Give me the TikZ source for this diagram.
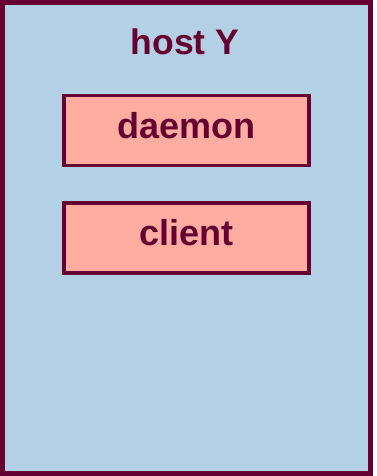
\documentclass[tikz,border=0pt]{standalone}
\usepackage{fontspec}
\setmainfont{Liberation Sans}
\definecolor{maroon}{HTML}{660033}
\definecolor{hostblue}{HTML}{B4D0E4}
\definecolor{salmon}{HTML}{FFADA0}
\tikzset{
  hostbox/.style={draw=maroon, fill=hostblue, line width=5pt},
  procbox/.style={draw=maroon, fill=salmon, line width=3.5pt, minimum width=245pt, minimum height=70pt, inner sep=0pt,
    font=\fontsize{36}{40}\selectfont\bfseries, text=maroon, text height=26pt, text depth=10.4pt},
  hostlabel/.style={font=\fontsize{35.5}{40}\selectfont\bfseries, text=maroon, inner sep=0pt, anchor=base}
}
\begin{document}
\begin{tikzpicture}[x=1pt,y=-1pt]
\useasboundingbox (0,0) rectangle (376,476);
\draw[hostbox] (2.5,2.5) rectangle (370.5,473.5);
\node[hostlabel] (host) at (185,55) {host Y};
\node[procbox] (daemon) at (186.5,130.5) {daemon};
\node[procbox] (client) at (186.5,238) {client};
\end{tikzpicture}
\end{document}
